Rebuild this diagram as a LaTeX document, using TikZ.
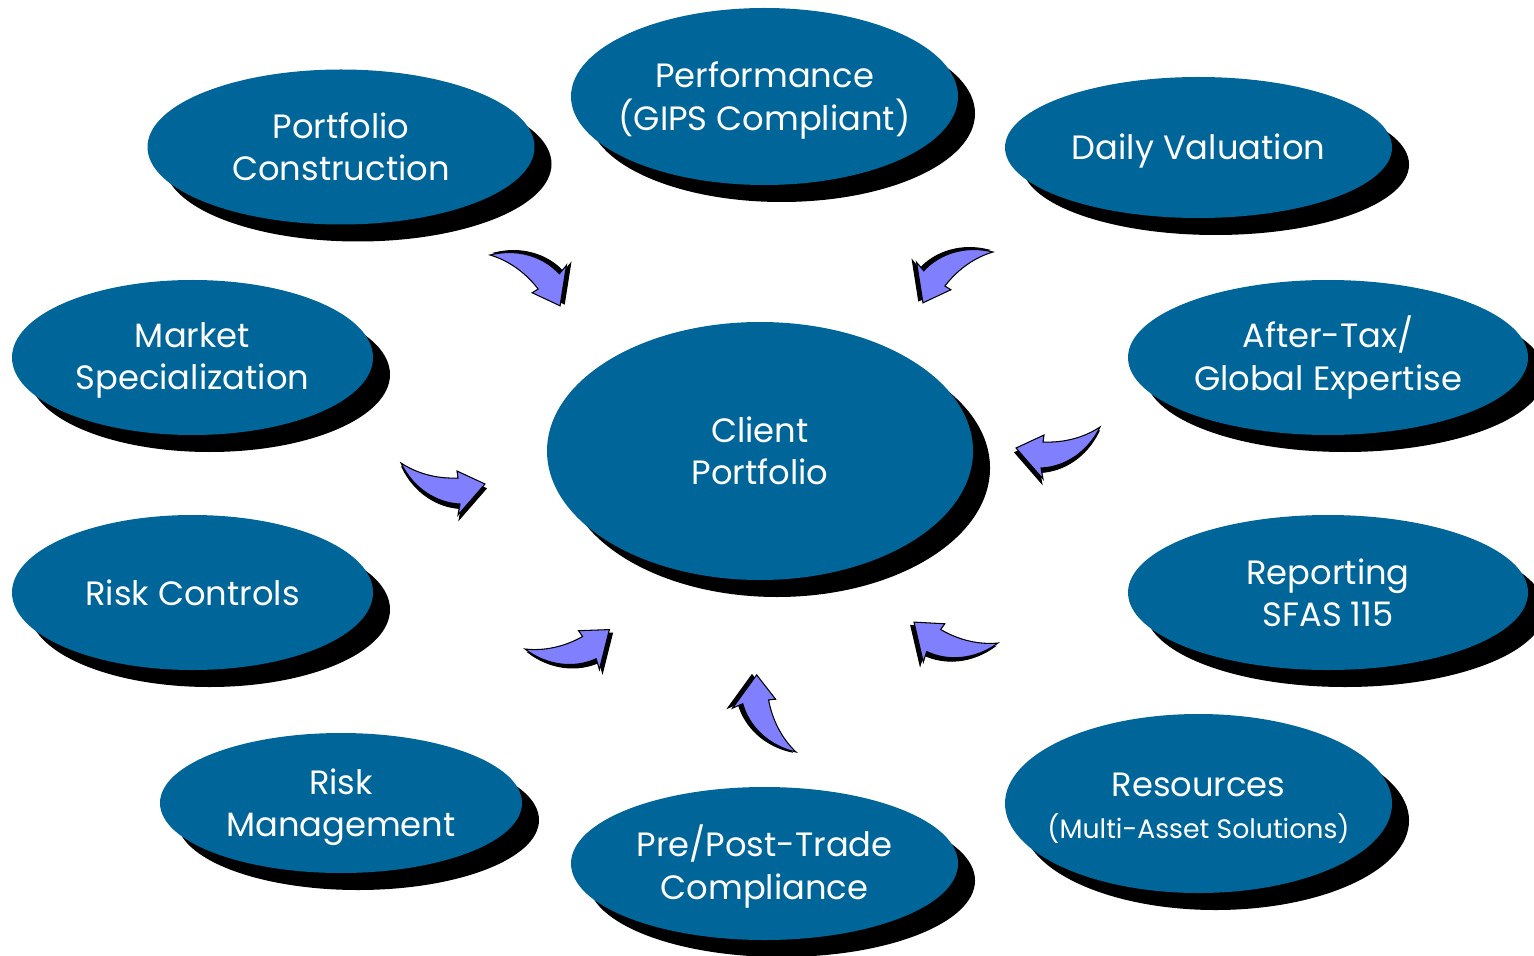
\documentclass[tikz,border=0pt]{standalone}
\usepackage{fontspec}
\setmainfont{Poppins}
\usetikzlibrary{shapes.geometric,shadows}
\definecolor{bubbleblue}{RGB}{0,102,153}
\definecolor{arrowblue}{RGB}{128,128,255}
\tikzset{
    bubble/.style={ellipse, fill=bubbleblue, inner sep=0pt,
        drop shadow={shadow xshift=0.17cm, shadow yshift=-0.17cm, opacity=1, fill=black}},
    txt/.style={text=white, align=center, font=\fontsize{9.6}{12}\selectfont},
    pics/bendarrow/.style={code={
        \foreach \dx/\dy/\col in {0.012/-0.045/black, 0/0/arrowblue}
            \filldraw[fill=\col, draw=black, line width=0.3pt, shift={(\dx,\dy)}]
                (0,0) .. controls (0.15,-0.10) and (0.35,-0.16) .. (0.57,-0.15)
                -- (0.56,-0.08) -- (0.84,-0.21) -- (0.57,-0.52) -- (0.59,-0.41)
                .. controls (0.35,-0.40) and (0.12,-0.25) .. (0,0) -- cycle;
    }}
}
\begin{document}
\begin{tikzpicture}
            \useasboundingbox (0,0) rectangle (15.34,9.55);

            \node[bubble, minimum width=3.87cm, minimum height=1.55cm, label={[txt]center:Portfolio\\Construction}] (PC) at (3.41,8.08) {};
            \node[bubble, minimum width=3.87cm, minimum height=1.77cm, label={[txt, yshift=-0.04cm]center:Performance\\(GIPS Compliant)}] (PE) at (7.645,8.585) {};
            \node[bubble, minimum width=3.87cm, minimum height=1.41cm, label={[txt, yshift=-0.04cm]center:Daily Valuation}] (DV) at (11.985,8.075) {};

            \node[bubble, minimum width=3.61cm, minimum height=1.55cm, label={[txt, yshift=-0.03cm]center:Market\\Specialization}] (MS) at (1.925,5.975) {};
            \node[bubble, minimum width=4.26cm, minimum height=2.58cm, label={[txt]center:Client\\Portfolio}] (CP) at (7.60,5.04) {};
            \node[bubble, minimum width=4.00cm, minimum height=1.55cm, label={[txt]center:After-Tax/\\Global Expertise}] (AT) at (13.28,5.975) {};

            \node[bubble, minimum width=3.61cm, minimum height=1.55cm, label={[txt]center:Risk Controls}] (RC) at (1.925,3.625) {};
            \node[bubble, minimum width=4.00cm, minimum height=1.55cm, label={[txt]center:Reporting\\SFAS 115}] (RP) at (13.28,3.625) {};

            \node[bubble, minimum width=3.62cm, minimum height=1.40cm, label={[txt, yshift=-0.04cm]center:Risk\\Management}] (RM) at (3.41,1.52) {};
            \node[bubble, minimum width=3.87cm, minimum height=1.53cm, label={[txt, yshift=-0.03cm]center:Pre/Post-Trade\\Compliance}] (PT) at (7.645,0.915) {};
            \node[bubble, minimum width=3.87cm, minimum height=1.79cm, label={[txt, yshift=-0.045cm]center:Resources\\{\fontsize{7.6}{12}\selectfont (Multi-Asset Solutions)}}] (RS) at (11.985,1.515) {};

            \pic[rotate=-50, yscale=-1] at (4.90,7.00) {bendarrow};
            \pic[rotate=-130] at (9.93,7.03) {bendarrow};
            \pic[xscale=-1] at (11.00,5.28) {bendarrow};
            \pic at (4.01,4.92) {bendarrow};
            \pic[rotate=27] at (5.25,3.06) {bendarrow};
            \pic[rotate=152, yscale=-1] at (9.98,3.12) {bendarrow};
            \pic[rotate=103, yscale=-1] at (7.96,2.03) {bendarrow};
        \end{tikzpicture}
\end{document}
